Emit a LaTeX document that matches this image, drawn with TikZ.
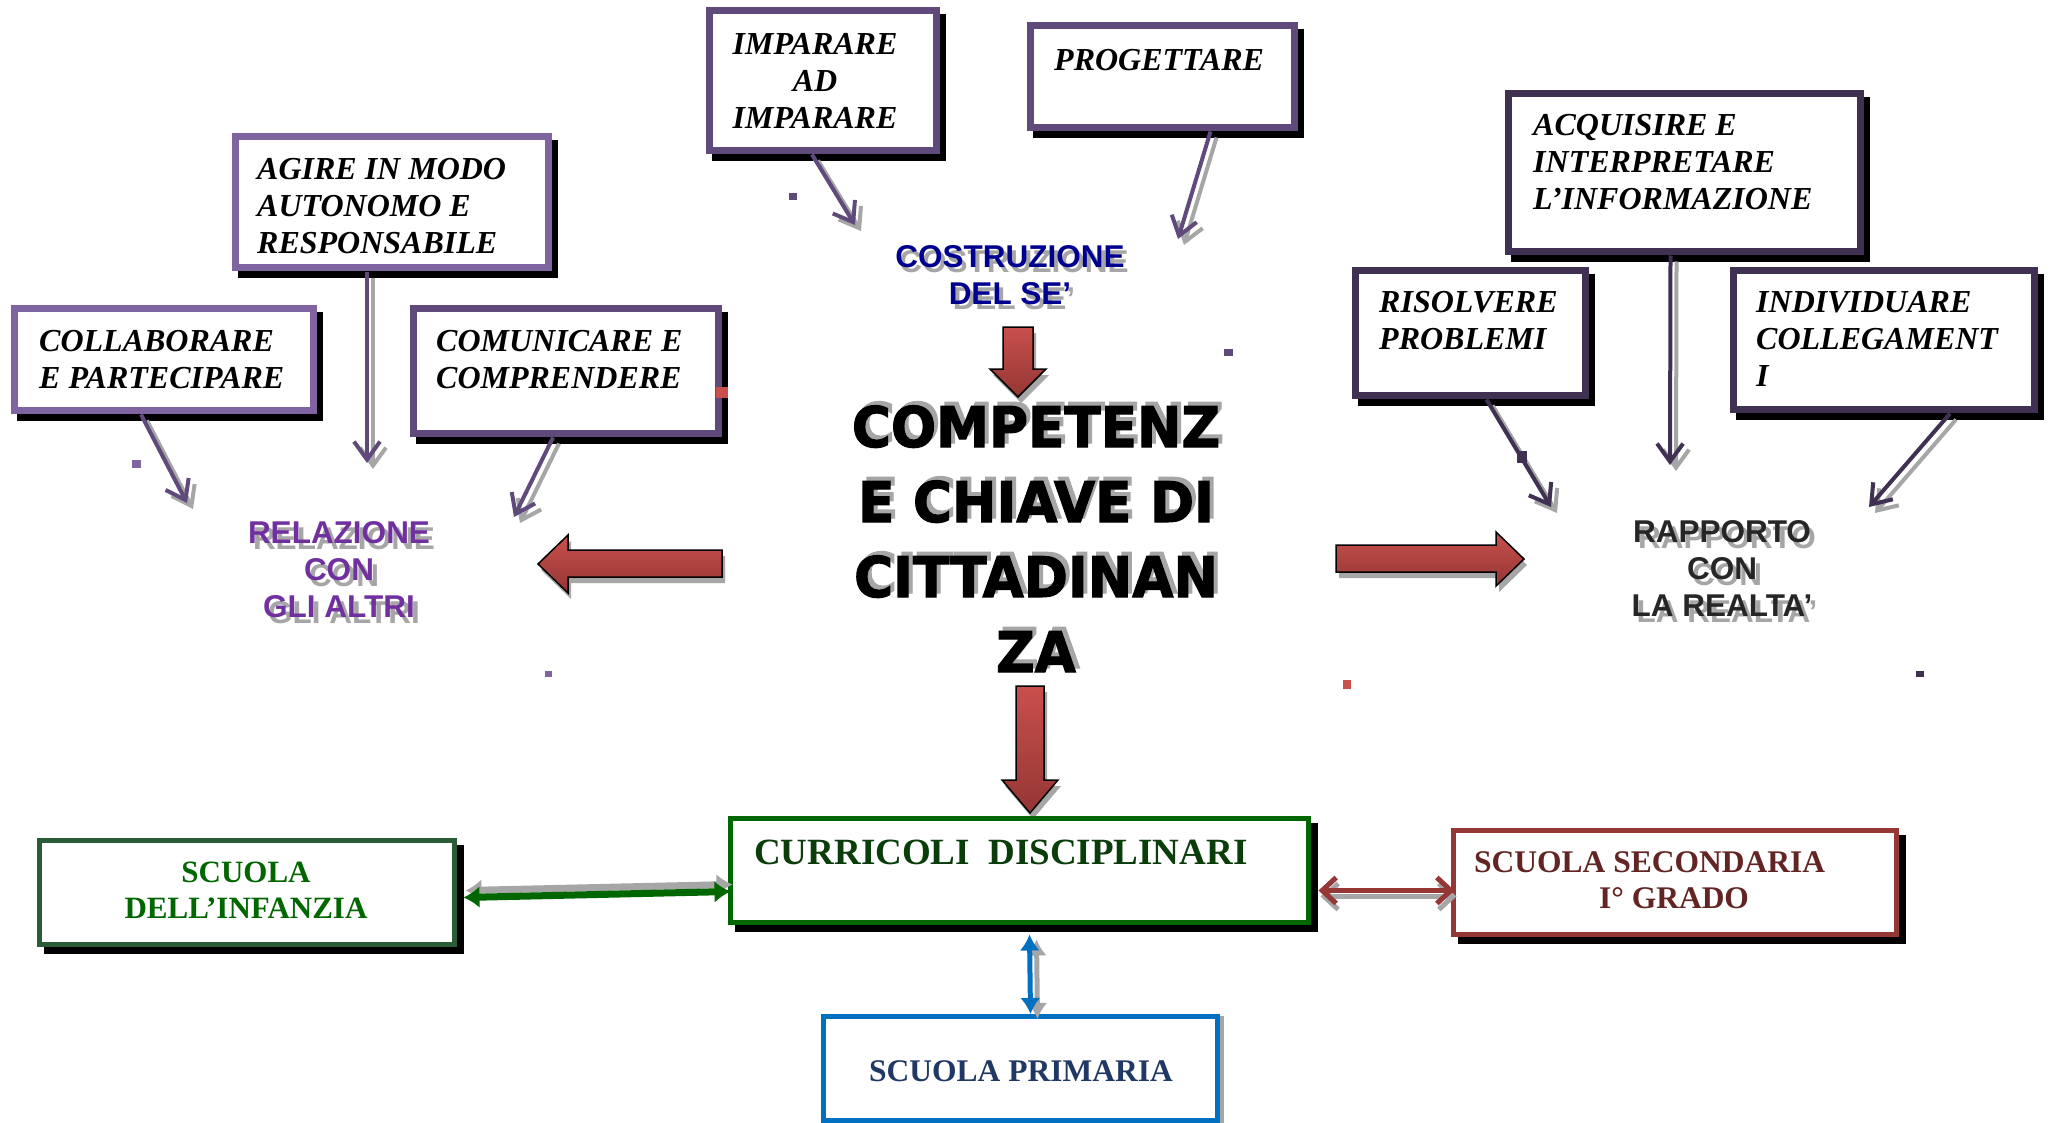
\documentclass[tikz,border=0pt]{standalone}
\usepackage{fontspec}
\setmainfont{Liberation Serif}
\newfontfamily\sansb{Liberation Sans}
\newfontfamily\heavy{DejaVu Sans}[FakeStretch=0.95, FakeBold=2]
\usetikzlibrary{arrows.meta,calc}
\definecolor{purA}{HTML}{8064A2}
\definecolor{purB}{HTML}{604A7B}
\definecolor{purC}{HTML}{403152}
\definecolor{redA}{HTML}{C9504D}
\definecolor{redB}{HTML}{943634}
\definecolor{shgray}{HTML}{A6A6A6}
\definecolor{navyT}{HTML}{000090}
\definecolor{violT}{HTML}{7030A0}
\definecolor{grnA}{HTML}{006600}
\definecolor{grnB}{HTML}{2A5C35}
\definecolor{grnT}{HTML}{0B3D0B}
\definecolor{secR}{HTML}{953735}
\definecolor{secT}{HTML}{632523}
\definecolor{bluA}{HTML}{0070C0}
\definecolor{priT}{HTML}{1F3864}
\definecolor{realT}{HTML}{262626}
\tikzset{
  pbox/.style={draw=#1, line width=7pt, fill=white, inner sep=0pt, outer sep=0pt,
    preaction={draw=black, fill=black, line width=7pt, transform canvas={shift={(6pt,-7pt)}}}},
  bbox/.style 2 args={draw=#1, line width=5pt, fill=white, inner sep=0pt, outer sep=0pt,
    preaction={draw=#2, fill=#2, line width=5pt, transform canvas={shift={(7pt,-7pt)}}}},
  btxt/.style={font=\fontsize{32}{37}\selectfont\bfseries\itshape, inner sep=0pt, align=left, anchor=west},
  conn/.style={draw=#1, line width=4pt, -{Straight Barb[length=18pt,width=26pt]}},
  connsh/.style={draw=shgray, line width=4pt, -{Straight Barb[length=18pt,width=26pt]}, transform canvas={shift={(6pt,-6pt)}}},
  redarr/.style={draw=black, line width=1.5pt, top color=redA, bottom color=redB},
  redsh/.style={fill=shgray, transform canvas={shift={(3pt,-6pt)}}},
  big/.style={font=\heavy\bfseries\fontsize{56}{60}\selectfont, inner sep=0pt, anchor=base},
  head/.style={font=\sansb\bfseries\fontsize{31.5}{37}\selectfont, inner sep=0pt, align=center},
  stxt/.style={font=\bfseries\fontsize{31}{36}\selectfont, inner sep=0pt},
  dot/.style={fill=#1, draw=none},
}
\begin{document}
\begin{tikzpicture}[x=1pt,y=-1pt]
\fill[white] (0,0) rectangle (2049,1123);
\useasboundingbox (0,0) rectangle (2049,1123);

% ---------- purple boxes ----------
\node[pbox=purB, minimum width=227pt, minimum height=140pt] (imp) at (823,80.5) {};
\node[pbox=purB, minimum width=264pt, minimum height=102pt] (prog) at (1162.5,76.5) {};
\node[pbox=purA, minimum width=313pt, minimum height=131pt] (agire) at (392,202) {};
\node[pbox=purA, minimum width=299pt, minimum height=102pt] (coll) at (164,359.5) {};
\node[pbox=purB, minimum width=305pt, minimum height=125pt] (comun) at (566,371) {};
\node[pbox=purC, minimum width=352pt, minimum height=158pt] (acq) at (1684.5,172.5) {};
\node[pbox=purC, minimum width=230pt, minimum height=125pt] (ris) at (1470.5,333) {};
\node[pbox=purC, minimum width=301pt, minimum height=139pt] (ind) at (1884,340) {};

\node[btxt, align=center, anchor=center] (timp) at (815,80.5) {IMPARARE\\AD\\IMPARARE};
\node[btxt] (tprog) at (1054,60) {PROGETTARE};
\node[btxt] (tagire) at (257,206) {AGIRE IN MODO\\AUTONOMO E\\RESPONSABILE};
\node[btxt] (tcoll) at (39,360) {COLLABORARE\\E PARTECIPARE};
\node[btxt] (tcom) at (436,360) {COMUNICARE E\\COMPRENDERE};
\node[btxt] (tacq) at (1533,162) {ACQUISIRE E\\INTERPRETARE\\L’INFORMAZIONE};
\node[btxt] (tris) at (1379,321) {RISOLVERE\\PROBLEMI};
\node[btxt] (tind) at (1756,339) {INDIVIDUARE\\COLLEGAMENT\\I};

% ---------- central texts ----------
\node[head, text=shgray] (cosS) at (1014,280) {COSTRUZIONE\\DEL SE’};
\node[head, text=navyT] (cos) at (1010,275) {COSTRUZIONE\\DEL SE’};

\node[head, text=shgray] (relS) at (344,576) {RELAZIONE\\CON\\GLI ALTRI};
\node[head, text=violT] (rel) at (339,570) {RELAZIONE\\CON\\GLI ALTRI};

\node[head, text=shgray] (rapS) at (1727,574) {RAPPORTO\\CON\\LA REALTA’};
\node[head, text=realT] (rap) at (1722,568) {RAPPORTO\\CON\\LA REALTA’};

\node[big, text=shgray] (c1S) at (1040,443) {COMPETENZ};
\node[big, text=shgray] (c2S) at (1040,518) {E CHIAVE DI};
\node[big, text=shgray] (c3S) at (1040,593) {CITTADINAN};
\node[big, text=shgray] (c4S) at (1040,668) {ZA};
\node[big] (c1) at (1036,447) {COMPETENZ};
\node[big] (c2) at (1036,522) {E CHIAVE DI};
\node[big] (c3) at (1036,597) {CITTADINAN};
\node[big] (c4) at (1036,672) {ZA};

% ---------- purple connectors ----------
\coordinate (tcollT) at (187,503);
\coordinate (tagT) at (367,463);
\coordinate (tcomT) at (514,517);
\coordinate (timpT) at (855,225);
\coordinate (tprogT) at (1178,239);
\coordinate (tacqT) at (1670,465);
\coordinate (trisT) at (1551,507);
\coordinate (tindT) at (1869,507);

\draw[connsh] ($(coll.south)+(-23,4)$) -- (tcollT);
\draw[conn=purB] ($(coll.south)+(-23,4)$) -- (tcollT);
\draw[connsh] ($(agire.south)+(-25,4)$) -- (tagT);
\draw[conn=purB] ($(agire.south)+(-25,4)$) -- (tagT);
\draw[connsh] ($(comun.south)+(-13,4)$) -- (tcomT);
\draw[conn=purB] ($(comun.south)+(-13,4)$) -- (tcomT);
\draw[connsh] ($(imp.south)+(-11,4)$) -- (timpT);
\draw[conn=purB] ($(imp.south)+(-11,4)$) -- (timpT);
\draw[connsh] ($(prog.south)+(48,4)$) -- (tprogT);
\draw[conn=purB] ($(prog.south)+(48,4)$) -- (tprogT);
\draw[connsh] ($(acq.south)+(-14,4)$) -- (tacqT);
\draw[conn=purC] ($(acq.south)+(-14,4)$) -- (tacqT);
\draw[connsh] ($(ris.south)+(16,4)$) -- (trisT);
\draw[conn=purC] ($(ris.south)+(16,4)$) -- (trisT);
\draw[connsh] ($(ind.south)+(66,4)$) -- (tindT);
\draw[conn=purC] ($(ind.south)+(66,4)$) -- (tindT);

% ---------- red block arrows ----------
\fill[redsh] (1003,327) -- (1033,327) -- (1033,369) -- (1046,369) -- (1018,397) -- (990,369) -- (1003,369) -- cycle;
\path[redarr] (1003,327) -- (1033,327) -- (1033,369) -- (1046,369) -- (1018,397) -- (990,369) -- (1003,369) -- cycle;
\fill[redsh] (1016,686) -- (1044,686) -- (1044,780) -- (1058,780) -- (1030,813) -- (1002,780) -- (1016,780) -- cycle;
\path[redarr] (1016,686) -- (1044,686) -- (1044,780) -- (1058,780) -- (1030,813) -- (1002,780) -- (1016,780) -- cycle;
\fill[redsh] (722,550) -- (568,550) -- (568,535) -- (538,564) -- (568,593) -- (568,577) -- (722,577) -- cycle;
\path[redarr] (722,550) -- (568,550) -- (568,535) -- (538,564) -- (568,593) -- (568,577) -- (722,577) -- cycle;
\fill[redsh] (1336,545) -- (1496,545) -- (1496,532) -- (1524,559) -- (1496,586) -- (1496,572) -- (1336,572) -- cycle;
\path[redarr] (1336,545) -- (1496,545) -- (1496,532) -- (1524,559) -- (1496,586) -- (1496,572) -- (1336,572) -- cycle;

% ---------- small stray marks ----------
\fill[dot=purB] (789,193) rectangle (797,200);
\fill[dot=purA] (132,460) rectangle (141,468);
\fill[dot=purB] (1224,349) rectangle (1233,356);
\fill[dot=redA] (716,387) rectangle (728,398);
\fill[dot=purA] (545,671) rectangle (552,677);
\fill[dot=redA] (1343,680) rectangle (1351,689);
\fill[dot=purC] (1916,671) rectangle (1924,677);
\fill[dot=purC] (1517,451) rectangle (1527,463);

% ---------- bottom boxes ----------
\node[bbox={grnB}{black}, minimum width=415pt, minimum height=104pt] (inf) at (247,892.5) {};
\node[bbox={grnA}{black}, minimum width=578pt, minimum height=104pt] (curr) at (1019.5,870.5) {};
\node[bbox={secR}{black}, minimum width=443pt, minimum height=104pt] (sec) at (1675,882.5) {};
\node[draw=bluA, line width=5pt, fill=white, inner sep=0pt, minimum width=394pt, minimum height=104pt,
      preaction={draw=shgray, line width=5pt, transform canvas={shift={(4pt,-2pt)}}}] (pri) at (1020.5,1068.5) {};

\node[stxt, text=grnA, align=center] (tinf) at (246,890) {SCUOLA\\DELL’INFANZIA};
\node[stxt, text=grnT, anchor=west, font=\bfseries\fontsize{37}{40}\selectfont] (tcurr) at (754,852) {CURRICOLI\ \ DISCIPLINARI};
\node[stxt, text=secT, anchor=west, font=\bfseries\fontsize{31.5}{36}\selectfont] (tsec1) at (1474,862) {SCUOLA SECONDARIA};
\node[stxt, text=secT, font=\bfseries\fontsize{31.5}{36}\selectfont] (tsec2) at (1674,898) {I° GRADO};
\node[stxt, text=priT, font=\bfseries\fontsize{31.5}{36}\selectfont] (tpri) at (1021,1071) {SCUOLA PRIMARIA};

% ---------- bottom connectors ----------
\draw[shgray, line width=7pt, {Latex[length=16pt,width=22pt]}-{Latex[length=16pt,width=22pt]}, transform canvas={shift={(2pt,7pt)}}]
  ($(inf.east)+(9,5)$) -- ($(curr.west)+(0,21)$);
\draw[grnA, line width=7pt, {Latex[length=16pt,width=22pt]}-{Latex[length=16pt,width=22pt]}]
  ($(inf.east)+(9,5)$) -- ($(curr.west)+(0,21)$);
\draw[shgray, line width=5pt, {Straight Barb[length=14pt,width=26pt]}-{Straight Barb[length=14pt,width=26pt]}, transform canvas={shift={(2pt,-6pt)}}]
  ($(curr.east)+(10,20)$) -- ($(sec.west)+(1,8)$);
\draw[secR, line width=5pt, {Straight Barb[length=14pt,width=26pt]}-{Straight Barb[length=14pt,width=26pt]}]
  ($(curr.east)+(10,20)$) -- ($(sec.west)+(1,8)$);
\draw[shgray, line width=5pt, {Latex[length=16pt,width=20pt]}-{Latex[length=16pt,width=20pt]}, transform canvas={shift={(7pt,-5pt)}}]
  ($(curr.south)+(10,12)$) -- ($(pri.north)+(10,0)$);
\draw[bluA, line width=5pt, {Latex[length=16pt,width=20pt]}-{Latex[length=16pt,width=20pt]}]
  ($(curr.south)+(10,12)$) -- ($(pri.north)+(10,0)$);
\end{tikzpicture}
\end{document}
